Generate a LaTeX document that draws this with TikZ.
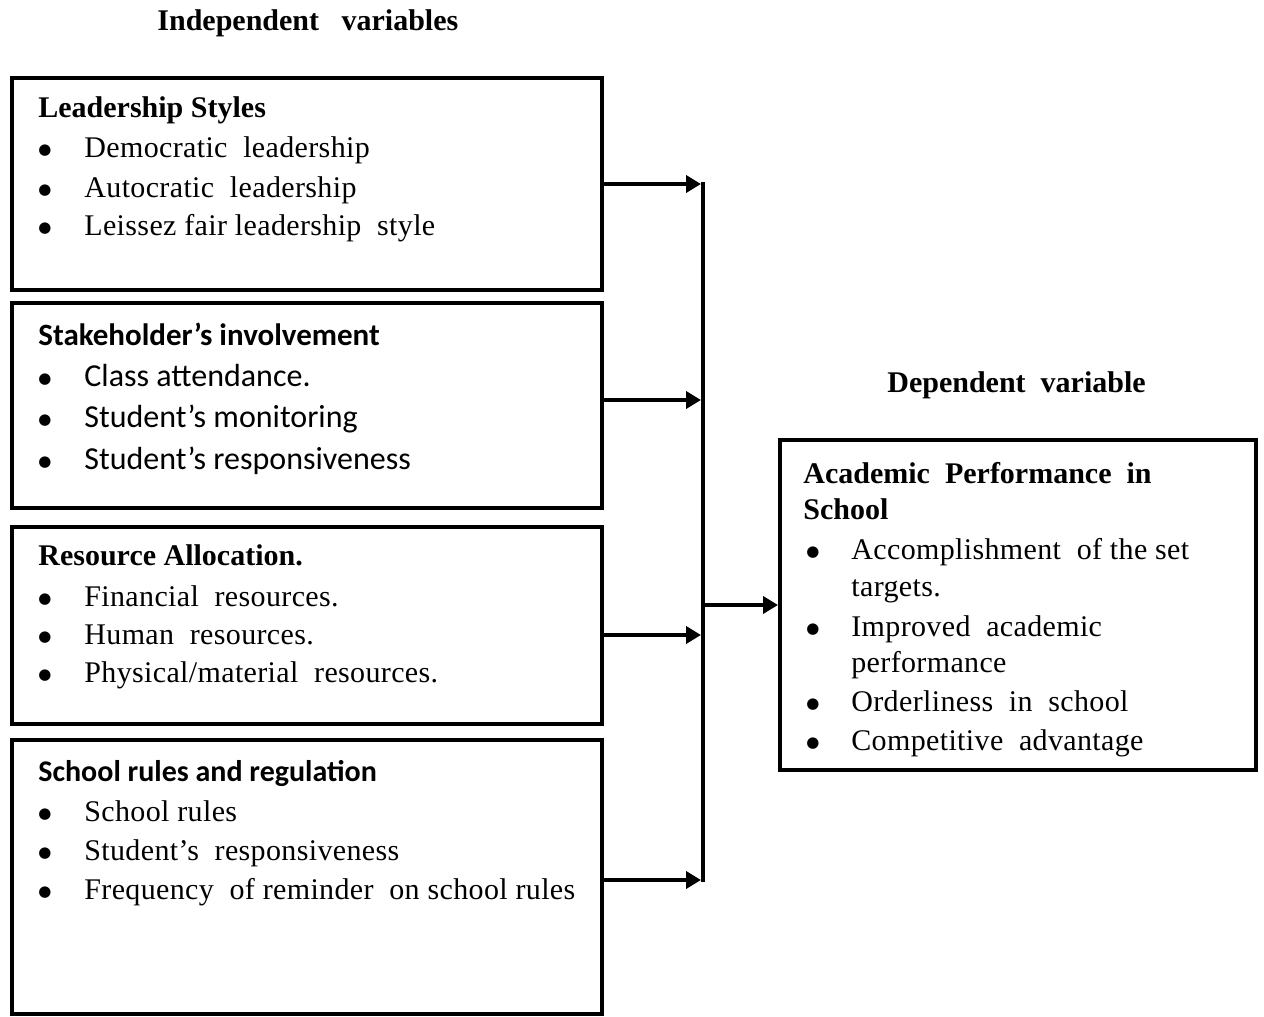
\documentclass[tikz,border=0pt]{standalone}
\usepackage{fontspec}
\setmainfont{Liberation Serif}
\newfontfamily\sansfnt{Carlito}
\newfontfamily\bodyfnt[LetterSpace=1.2]{Liberation Serif}
\newfontfamily\symfnt{DejaVu Sans}
\newcommand\mybul{\raisebox{1.2pt}{●}}
\usetikzlibrary{arrows.meta}
\tikzset{
  box/.style={draw, line width=2pt, rectangle, inner sep=0pt},
  txt/.style={anchor=base west, inner sep=0pt, font=\fontsize{15}{18}\selectfont\bodyfnt},
  hd/.style={anchor=base west, inner sep=0pt, font=\fontsize{15}{18}\selectfont\bfseries},
  shd/.style={anchor=base west, inner sep=0pt, font=\fontsize{15.5}{18}\selectfont\sansfnt\bfseries},
  stxt/.style={anchor=base west, inner sep=0pt, font=\fontsize{16}{19}\selectfont\sansfnt},
  bul/.style={anchor=base west, inner sep=0pt, font=\fontsize{7.5}{8}\selectfont\symfnt},
  conn/.style={line width=2pt},
  arr/.style={conn, -{Triangle[length=7.5pt,width=8.5pt]}},
}
\begin{document}
\begin{tikzpicture}[x=0.5pt, y=-0.5pt]
\useasboundingbox (0,0) rectangle (1264,1017);

% titles
\node[hd] (tind) at (157,31) {Independent\ \ \ variables};
\node[hd] (tdep) at (887,392) {Dependent\ \ variable};

% boxes
\node[box, minimum width=295pt, minimum height=106pt] (b1) at (307,184) {};
\node[box, minimum width=295pt, minimum height=102.5pt] (b2) at (307,405.5) {};
\node[box, minimum width=295pt, minimum height=98.5pt] (b3) at (307,625.5) {};
\node[box, minimum width=295pt, minimum height=137pt] (b4) at (307,877) {};
\node[box, minimum width=238pt, minimum height=165pt] (br) at (1018,605) {};

% box 1
\node[hd] (h1) at (38,117) {Leadership Styles};
\node[bul] (b1a) at (38,157) {\mybul};
\node[txt] (t1a) at (84,157) {Democratic\ \ leadership};
\node[bul] (b1b) at (38,197) {\mybul};
\node[txt] (t1b) at (84,197) {Autocratic\ \ leadership};
\node[bul] (b1c) at (38,235) {\mybul};
\node[txt] (t1c) at (84,235) {Leissez\ fair\ leadership\ \ style};

% box 2
\node[shd] (h2) at (38,345) {Stakeholder’s involvement};
\node[bul] (b2a) at (38,386) {\mybul};
\node[stxt] (t2a) at (84,386) {Class attendance.};
\node[bul] (b2b) at (38,427) {\mybul};
\node[stxt] (t2b) at (84,427) {Student’s monitoring};
\node[bul] (b2c) at (38,469) {\mybul};
\node[stxt] (t2c) at (84,469) {Student’s responsiveness};

% box 3
\node[hd] (h3) at (38,565) {Resource Allocation.};
\node[bul] (b3a) at (38,606) {\mybul};
\node[txt] (t3a) at (84,606) {Financial\ \ resources.};
\node[bul] (b3b) at (38,644) {\mybul};
\node[txt] (t3b) at (84,644) {Human\ \ resources.};
\node[bul] (b3c) at (38,682) {\mybul};
\node[txt] (t3c) at (84,682) {Physical/material\ \ resources.};

% box 4
\node[shd, font=\fontsize{15}{18}\selectfont\sansfnt\bfseries] (h4) at (38,781) {School rules and regulation};
\node[bul] (b4a) at (38,821) {\mybul};
\node[txt] (t4a) at (84,821) {School rules};
\node[bul] (b4b) at (38,860) {\mybul};
\node[txt] (t4b) at (84,860) {Student’s\ \ responsiveness};
\node[bul] (b4c) at (38,899) {\mybul};
\node[txt] (t4c) at (84,899) {Frequency\ \ of reminder\ \ on school rules};

% right box
\node[hd] (hr1) at (803,483) {Academic\ \ Performance\ \ in};
\node[hd] (hr2) at (803,519) {School};
\node[bul] (bra) at (806,559) {\mybul};
\node[txt] (tra) at (851,559) {Accomplishment\ \ of the set};
\node[txt] (tra2) at (851,596) {targets.};
\node[bul] (brb) at (806,636) {\mybul};
\node[txt] (trb) at (851,636) {Improved\ \ academic};
\node[txt] (trb2) at (851,672) {performance};
\node[bul] (brc) at (806,711) {\mybul};
\node[txt] (trc) at (851,711) {Orderliness\ \ in\ \ school};
\node[bul] (brd) at (806,750) {\mybul};
\node[txt] (trd) at (851,750) {Competitive\ \ advantage};

% connectors
\coordinate (bust) at (703,182);
\coordinate (busb) at (703,882);
\coordinate (bus) at (701,0);
\coordinate (busm) at (703,605);
\draw[conn] (bust) -- (busb);
\draw[arr] (b1.east) -- (b1.east -| bus);
\draw[arr] ([yshift=2.75pt]b2.east) -- ([yshift=2.75pt]b2.east -| bus);
\draw[arr] ([yshift=-4.75pt]b3.east) -- ([yshift=-4.75pt]b3.east -| bus);
\draw[arr] ([yshift=-1.5pt]b4.east) -- ([yshift=-1.5pt]b4.east -| bus);
\draw[arr] (busm) -- (br.west);
\end{tikzpicture}
\end{document}
